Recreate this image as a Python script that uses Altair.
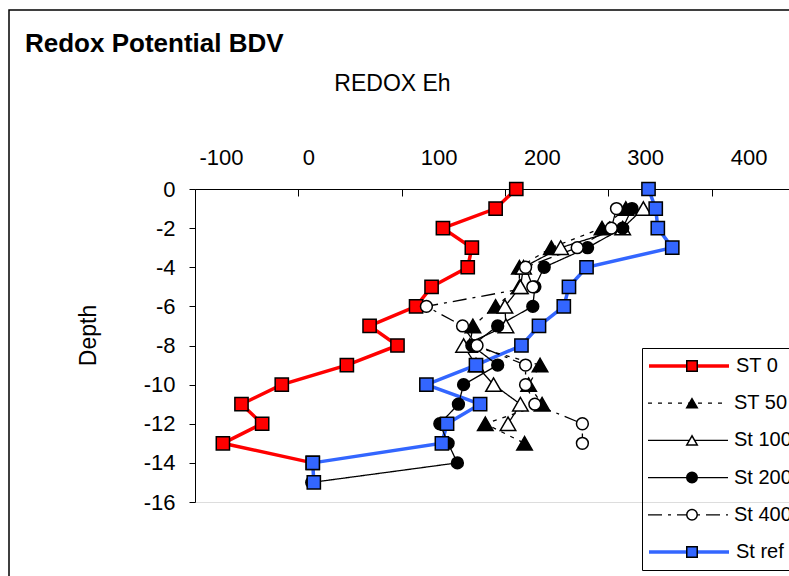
import altair as alt
import pandas as pd

FONT = "Liberation Sans"

series_names = ["ST 0", "ST 50", "St 100", "St 200", "St 400", "St ref"]

depth_st0 = [0, -1, -2, -3, -4, -5, -6, -7, -8, -9, -10, -11, -12, -13, -14]
eh_st0 = [211, 191, 140, 168, 164, 129, 114, 69, 96, 47, -16, -55, -35, -73, 14]

depth_st50 = [-1, -2, -3, -4, -5, -6, -7, -8, -9, -10, -11, -12, -13]
eh_st50 = [317, 294, 245, 214, 214, 191, 169, 166, 234, 223, 236, 181, 219]

depth_st100 = [-1, -2, -3, -4, -5, -6, -7, -8, -9, -10, -11, -12]
eh_st100 = [334, 314, 254, 218, 215, 200, 201, 160, 172, 189, 215, 203]

depth_st200 = [-1, -2, -3, -4, -5, -6, -7, -8, -9, -10, -11, -12, -13, -14, -15]
eh_st200 = [323, 314, 280, 238, 229, 227, 193, 168, 193, 160, 155, 137, 145, 154, 13]

depth_st400 = [-1, -2, -3, -4, -5, -6, -7, -8, -9, -10, -11, -12, -13]
eh_st400 = [308, 303, 270, 220, 227, 124, 159, 173, 220, 220, 229, 275, 275]

depth_ref = [0, -1, -2, -3, -4, -5, -6, -7, -8, -9, -10, -11, -12, -13, -14, -15]
eh_ref = [339, 346, 348, 362, 279, 262, 257, 233, 216, 172, 124, 176, 144, 139, 14, 15]

x_ticks = [-100, 0, 100, 200, 300, 400]
y_ticks = [-16, -14, -12, -10, -8, -6, -4, -2, 0]

series_data = [
    ("ST 0", depth_st0, eh_st0),
    ("ST 50", depth_st50, eh_st50),
    ("St 100", depth_st100, eh_st100),
    ("St 200", depth_st200, eh_st200),
    ("St 400", depth_st400, eh_st400),
    ("St ref", depth_ref, eh_ref),
]
rows = []
for name, depths, vals in series_data:
    for d, v in zip(depths, vals):
        rows.append({"series": name, "depth": d, "eh": v})
df = pd.DataFrame(rows)

thick_names = ["ST 0", "St ref"]
thin_names = ["ST 50", "St 100", "St 200", "St 400"]

x_scale = alt.Scale(domain=[-100, 475], nice=False, zero=False)
y_scale = alt.Scale(domain=[-16, 0], nice=False, zero=False)

PLAIN_LABEL = "datum.value + ''"
LABEL_SIZE = 22
TITLE_SIZE = 23

y_axis = alt.Axis(
    orient="left", values=y_ticks, tickSize=6, labelPadding=14,
    labelExpr=PLAIN_LABEL,
    labelFont=FONT, labelFontSize=LABEL_SIZE, labelColor="black",
    domainColor="black", tickColor="black", grid=False,
    title="Depth", titleFont=FONT, titleFontSize=TITLE_SIZE, titleFontWeight="normal",
    titleColor="black", titleX=-107, titleY=146, titleAngle=270,
    titleAlign="center", titleBaseline="middle",
)


def top_axis(vals, offset, domain=False, title=None):
    kw = dict(
        orient="top", values=vals, ticks=False, tickSize=0, labelPadding=20,
        labelOffset=offset, labelFlush=False, labelOverlap=False,
        labelExpr=PLAIN_LABEL,
        labelFont=FONT, labelFontSize=LABEL_SIZE, labelColor="black",
        domain=domain, domainColor="black", grid=False,
    )
    if title:
        kw.update(title=title, titleFont=FONT, titleFontSize=TITLE_SIZE,
                  titleFontWeight="normal", titleColor="black",
                  titleX=197, titleY=-106, titleAlign="center",
                  titleBaseline="middle")
    else:
        kw.update(title=None)
    return alt.Axis(**kw)


y_enc = alt.Y("depth:Q", scale=y_scale, axis=y_axis)
order_enc = alt.Order("depth:Q", sort="descending")

border = alt.Chart(pd.DataFrame({"frame": [0]})).mark_rect(
    fillOpacity=0, stroke="black", strokeWidth=1.5
).encode(
    x=alt.value(-186), x2=alt.value(900),
    y=alt.value(-179), y2=alt.value(700),
)

thick = alt.Chart(df).transform_filter(
    alt.FieldOneOfPredicate(field="series", oneOf=thick_names)
).mark_line(strokeWidth=3.5).encode(
    x=alt.X("eh:Q", scale=x_scale,
            axis=top_axis([100, 200, 300, 400], 37, domain=True, title="REDOX Eh")),
    y=y_enc,
    color=alt.Color(
        "series:N",
        scale=alt.Scale(domain=thick_names, range=["#FF0000", "#3366FF"]),
        legend=alt.Legend(
            title=None, orient="none", legendX=447, legendY=159, direction="vertical",
            symbolType="stroke", symbolSize=6400, symbolStrokeWidth=3.5,
            clipHeight=26, rowPadding=160, padding=5,
            labelFont=FONT, labelFontSize=20, labelColor="black",
            labelOffset=5, labelLimit=400, strokeColor="black",
        ),
    ),
    order=order_enc,
)

thin = alt.Chart(df).transform_filter(
    alt.FieldOneOfPredicate(field="series", oneOf=thin_names)
).mark_line(strokeWidth=1.3, color="black").encode(
    x=alt.X("eh:Q", scale=x_scale, axis=top_axis([0], 10)),
    y=y_enc,
    detail="series:N",
    strokeDash=alt.StrokeDash(
        "series:N",
        scale=alt.Scale(domain=thin_names,
                        range=[[4, 6], [1, 0], [1, 0], [14, 6, 3, 6]]),
        legend=alt.Legend(
            title=None, orient="none", legendX=447, legendY=196.2, direction="vertical",
            symbolType="stroke", symbolSize=6400, symbolStrokeWidth=1.3,
            symbolStrokeColor="black",
            clipHeight=26, rowPadding=11.2, padding=5,
            labelFont=FONT, labelFontSize=20, labelColor="black",
            labelOffset=5, labelLimit=400,
        ),
    ),
    order=order_enc,
)

size_enc = alt.when(
    alt.FieldOneOfPredicate(field="series", oneOf=["ST 50", "St 100"])
).then(alt.value(240)).when(
    alt.FieldOneOfPredicate(field="series", oneOf=["St 200", "St 400"])
).then(alt.value(140)).otherwise(alt.value(175))

point_legend = alt.Legend(
    title=None, orient="none", legendX=482, legendY=159, direction="vertical",
    symbolSize=110, symbolStrokeWidth=1.5,
    clipHeight=26, rowPadding=11.2, padding=5,
    labelFontSize=20, labelExpr="''",
)

pts = alt.Chart(df).mark_point(
    filled=True, stroke="black", strokeWidth=1.5, opacity=1
).encode(
    x=alt.X("eh:Q", scale=x_scale, axis=top_axis([-100], 26)),
    y=y_enc,
    fill=alt.Fill(
        "series:N",
        scale=alt.Scale(domain=series_names,
                        range=["#FF0000", "black", "white", "black", "white", "#3366FF"]),
        legend=point_legend,
    ),
    shape=alt.Shape(
        "series:N",
        scale=alt.Scale(domain=series_names,
                        range=["square", "triangle-up", "triangle-up",
                               "circle", "circle", "square"]),
        legend=point_legend,
    ),
    size=size_enc,
)

tick_layer = alt.Chart(df).mark_point(opacity=0).encode(
    x=alt.X("eh:Q", scale=x_scale,
            axis=alt.Axis(orient="bottom", offset=-313, values=x_ticks, tickSize=7,
                          tickColor="black", tickWidth=1, labels=False,
                          domain=False, grid=False, title=None)),
    y=y_enc,
)

chart = alt.layer(border, thick, thin, pts, tick_layer).resolve_axis(
    x="independent"
).properties(
    width=594,
    height=313,
    padding={"left": 195, "top": 189, "right": 0, "bottom": 74},
    autosize=alt.AutoSizeParams(type="none"),
    title=alt.TitleParams(
        text="Redox Potential BDV", anchor="start", frame="group", dx=-170,
        offset=-69, font=FONT, fontSize=26, fontWeight="bold", color="black",
        baseline="alphabetic",
    ),
).configure_view(strokeWidth=0).configure(background="white")

chart.save("out.html", embed_options={"renderer": "svg", "actions": False})
